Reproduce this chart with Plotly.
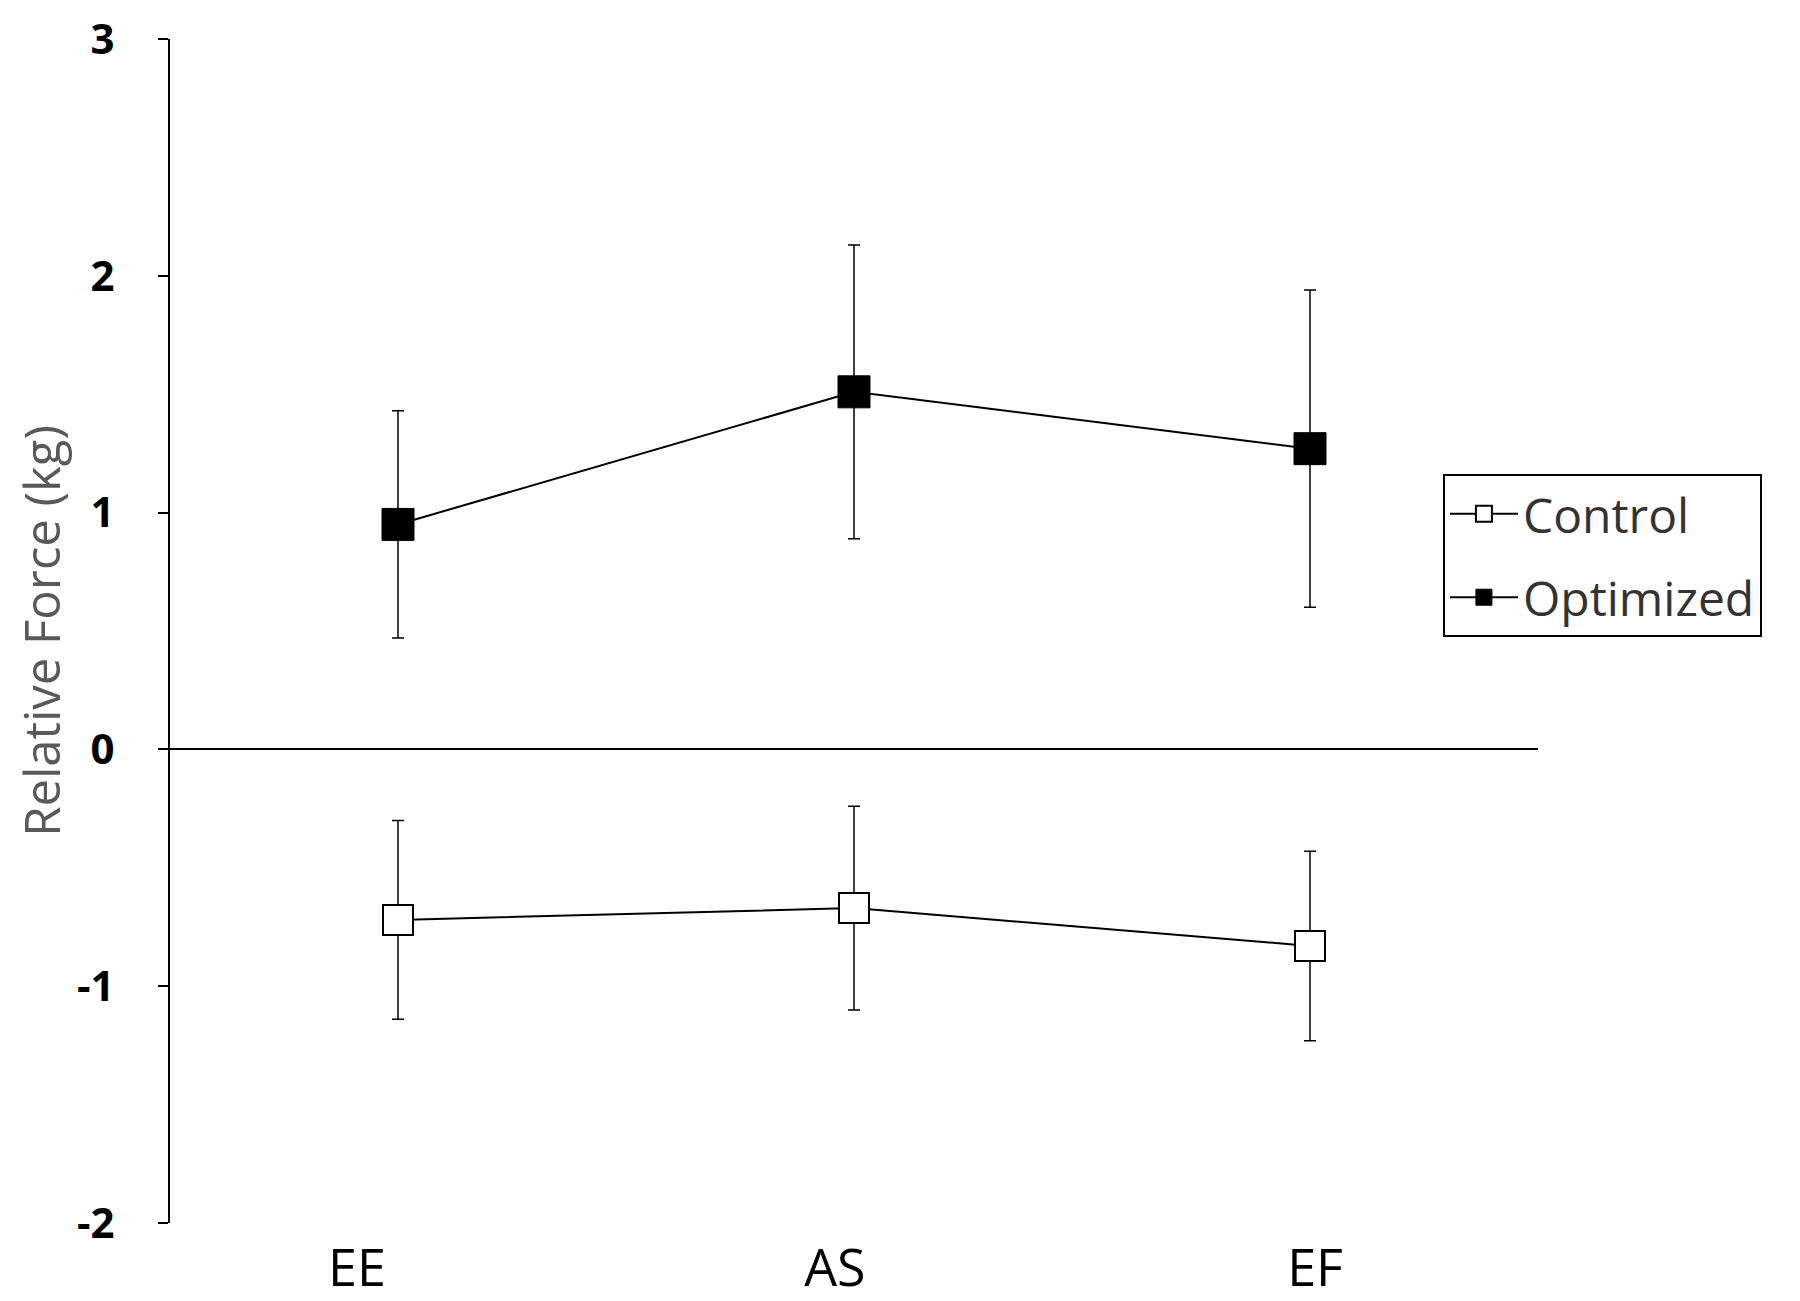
import plotly.graph_objects as go

categories = ['EE', 'AS', 'EF']
x_idx = [0, 1, 2]

control = [-0.72, -0.67, -0.83]
control_err = [0.42, 0.43, 0.40]

optimized = [0.95, 1.51, 1.27]
optimized_err = [0.48, 0.62, 0.67]

y_ticks = [-2, -1, 0, 1, 2, 3]
y_labels = ['-2', '-1', '0', '1', '2', '3']

fig = go.Figure()

fig.add_trace(go.Scatter(
    x=x_idx, y=control, name='Control', mode='lines+markers',
    legendgroup='c',
    line=dict(color='black', width=2),
    marker=dict(symbol='square', size=30, color='white',
                line=dict(color='black', width=2)),
    error_y=dict(type='data', array=control_err, visible=True,
                 color='black', thickness=1.5, width=6),
))
fig.add_trace(go.Scatter(
    x=x_idx, y=optimized, name='Optimized', mode='lines+markers',
    legendgroup='o',
    line=dict(color='black', width=2),
    marker=dict(symbol='square', size=32, color='black',
                line=dict(color='black', width=1)),
    error_y=dict(type='data', array=optimized_err, visible=True,
                 color='black', thickness=1.5, width=6),
))

fig.update_layout(
    width=1800, height=1301,
    margin=dict(l=162, r=270, t=31, b=86),
    paper_bgcolor='white', plot_bgcolor='white',
    showlegend=True,
    legend=dict(
        x=0.9305, y=0.6325, xanchor='left', yanchor='top',
        bordercolor='black', borderwidth=2, bgcolor='white',
        font=dict(family='Open Sans', size=48, color='#333333'),
        traceorder='grouped', tracegroupgap=18, itemwidth=68,
        entrywidth=355,
    ),
    xaxis=dict(
        range=[-0.5, 2.5], automargin=False,
        tickvals=[-0.09, 0.958, 2.011], ticktext=categories,
        showline=False, showgrid=False, zeroline=False, ticks='',
        tickfont=dict(family='Open Sans', size=52, color='black'),
        ticklabelstandoff=10,
    ),
    yaxis=dict(
        range=[-2, 3], tickvals=y_ticks, ticktext=y_labels,
        automargin=False,
        showline=True, linecolor='black', linewidth=2,
        ticks='outside', ticklen=10, tickcolor='black', tickwidth=2,
        showgrid=False,
        zeroline=True, zerolinecolor='black', zerolinewidth=2,
        tickfont=dict(family='Open Sans', size=42, color='black', weight=700),
        ticklabelstandoff=35, ticklabeloverflow='allow',
        title=dict(text='Relative Force (kg)', standoff=40,
                   font=dict(family='Open Sans', size=49, color='#595959')),
    ),
)

fig.write_html('out.html')
